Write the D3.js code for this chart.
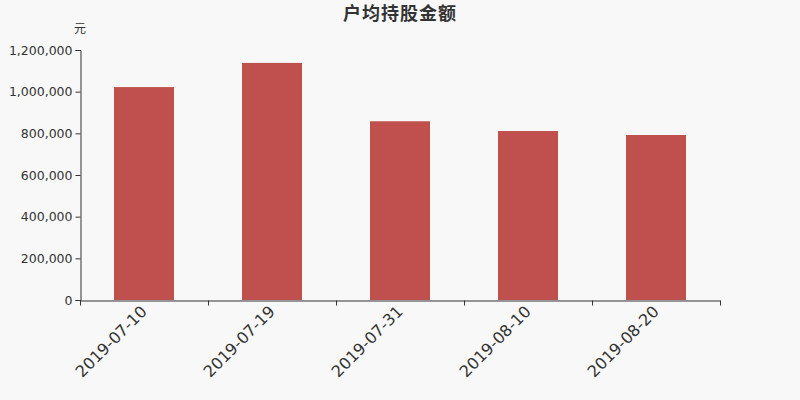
<!DOCTYPE html>
<html><head><meta charset="utf-8">
<script src="https://cdn.jsdelivr.net/npm/d3@7"></script>
<style>
html,body{margin:0;padding:0;background:#f8f8f8;}
svg{display:block;font-family:"DejaVu Sans","Noto Sans CJK SC",sans-serif;}
</style></head>
<body><svg id="c" width="800" height="400"></svg>
<script>
const categories = ["2019-07-10","2019-07-19","2019-07-31","2019-08-10","2019-08-20"];
const values = [1022000, 1138000, 858000, 811000, 792000];
const yTicks = [0, 200000, 400000, 600000, 800000, 1000000, 1200000];
const title = "户均持股金额";
const unit = "元";

const svg = d3.select("#c");
svg.append("rect").attr("width",800).attr("height",400).attr("fill","#f8f8f8");
const m = {l:80, r:80, t:50, b:100};
const W = 800, H = 400;
const x = d3.scaleBand().domain(categories).range([m.l, W - m.r]);
const y = d3.scaleLinear().domain([0, 1200000]).range([H - m.b, m.t]);
const barW = 60;

svg.append("g").selectAll("rect").data(values).join("rect")
  .attr("x", (d,i) => x(categories[i]) + x.bandwidth()/2 - barW/2)
  .attr("width", barW)
  .attr("y", d => y(d))
  .attr("height", d => y(0) - y(d))
  .attr("fill", "#c0504e");

const fmt = d3.format(",");
const ya = svg.append("g").attr("transform", `translate(${m.l + 0.5},0)`)
  .call(d3.axisLeft(y).tickValues(yTicks).tickFormat(fmt).tickSize(5).tickPadding(3));
ya.selectAll("text").attr("font-size", 12.5).attr("fill", "#333").attr("font-family", "DejaVu Sans");
ya.selectAll("line,path").attr("stroke", "#333");

const xa = svg.append("g").attr("transform", `translate(0,${H - m.b + 0.5})`)
  .call(d3.axisBottom(x).tickSize(0).tickFormat(""));
xa.select("path").attr("stroke", "#333");
const bounds = categories.map(c => x(c)).concat([x(categories[categories.length-1]) + x.bandwidth()]);
xa.selectAll(".bt").data(bounds).join("line").attr("class","bt")
  .attr("x1", d => Math.round(d) + 0.5).attr("x2", d => Math.round(d) + 0.5)
  .attr("y1", 0).attr("y2", 5).attr("stroke", "#333");
xa.selectAll(".lbl").data(categories).join("text").attr("class","lbl")
  .attr("transform", d => `translate(${x(d) + x.bandwidth()/2 + 4},${12}) rotate(-45)`)
  .attr("text-anchor", "end")
  .attr("font-size", 16)
  .attr("fill", "#333")
  .attr("font-family", "DejaVu Sans")
  .text(d => d);

svg.append("text").attr("x", 400).attr("y", 20).attr("text-anchor", "middle")
  .attr("font-size", 18).attr("font-weight", "bold").attr("fill", "#333")
  .attr("font-family", "Noto Sans CJK SC").attr("letter-spacing", 1)
  .text(title);
svg.append("text").attr("x", 80).attr("y", 33).attr("text-anchor", "middle")
  .attr("font-size", 12).attr("fill", "#333")
  .attr("font-family", "Noto Sans CJK SC")
  .text(unit);
</script></body></html>
